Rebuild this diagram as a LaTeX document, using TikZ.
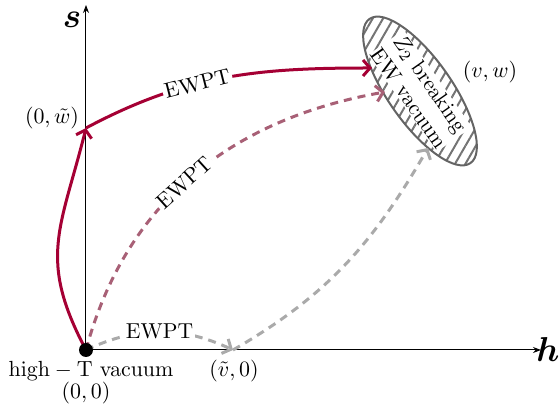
\documentclass[tikz,border=0pt]{standalone}
\usepackage{amsmath,bm}
\usetikzlibrary{arrows.meta,patterns.meta,shapes.geometric}
\definecolor{cred}{RGB}{165,0,52}
\definecolor{cmauve}{RGB}{168,96,118}
\definecolor{cgray}{RGB}{170,170,170}
\definecolor{cdark}{RGB}{100,100,100}
\begin{document}
\begin{tikzpicture}[x=0.5pt,y=0.5pt,font=\fontsize{10.8}{13}\selectfont,
  axis/.style={line width=0.5pt,-{Stealth[length=4pt,width=3pt]}},
  flow/.style={line width=1.5pt,-{Straight Barb[length=3.5pt,width=8pt,line width=1.5pt]}},
  dflow/.style={flow,dash pattern=on 4pt off 3pt},
  lab/.style={fill=white,inner sep=1pt,text=black},
  plain/.style={inner sep=1pt}]
\useasboundingbox (0,0) rectangle (559,412);
\coordinate (O) at (86,62);
\coordinate (Stop) at (86,407);
\coordinate (Hend) at (541,62);
\coordinate (W) at (86,284);
\coordinate (V) at (233,62);
\coordinate (C) at (420,321);
\coordinate (E1) at (372,344);
\coordinate (E2) at (385,320);
\coordinate (E3) at (428,264);
\draw[axis] (O) -- (Stop);
\draw[axis] (O) -- (Hend);
\node[plain] (slab) at (72,392) {\LARGE$\boldsymbol{s}$};
\node[plain] (hlab) at (548,62) {\LARGE$\boldsymbol{h}$};
\draw[cdark,line width=1pt,pattern={Lines[angle=60,distance=4.5pt,line width=1pt]},pattern color=cdark!90,rotate around={-55:(C)}] (C) ellipse[x radius=44pt,y radius=16pt];
\node[rotate=-55,align=center,fill=white,inner sep=0.5pt] (vac) at (C) {$Z_2$ breaking\\EW vacuum};
\node[plain] (vw) at (490,340) {$(v,w)$};
\node[plain] (wt) at (52,294) {$(0,\tilde{w})$};
\node[plain] (vt) at (234,41) {$(\tilde{v},0)$};
\node[plain] (hT) at (91,41) {$\mathrm{high-T\ vacuum}$};
\node[plain] (zz) at (86,19) {$(0,0)$};
\draw[flow,cred] (O) to[out=118,in=256,looseness=1.2] (W);
\draw[flow,cred] (W) to[out=28,in=180] node[lab,sloped,pos=0.4] {EWPT} (E1);
\draw[dflow,cmauve] (O) to[out=75,in=190] node[lab,sloped,pos=0.47] {EWPT} (E2);
\draw[dflow,cgray] (O) to[bend left=25] node[lab,pos=0.5] {EWPT} (V);
\draw[dflow,cgray] (V) to[out=30,in=240] (E3);
\node[circle,fill=black,inner sep=0pt,minimum size=7pt] (dot) at (O) {};
\end{tikzpicture}
\end{document}
